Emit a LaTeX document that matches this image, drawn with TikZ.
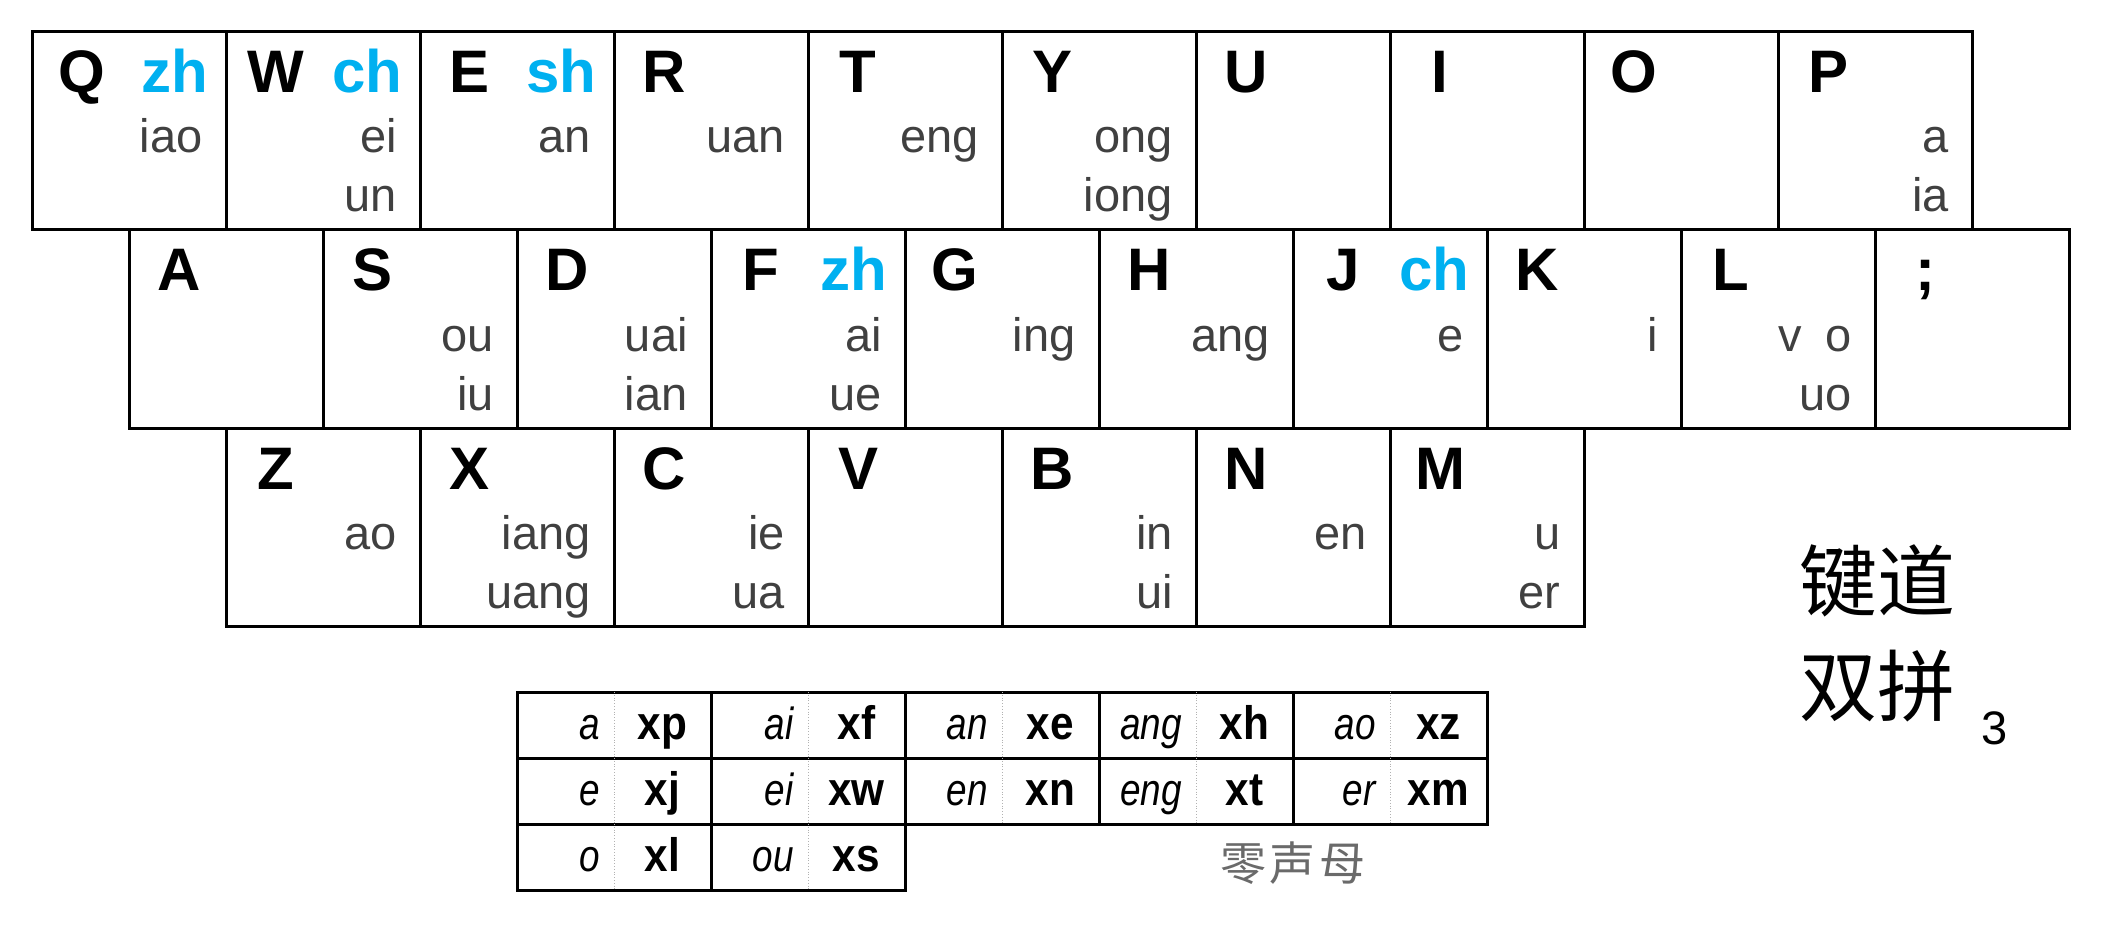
\documentclass[tikz,border=0pt]{standalone}
\usepackage{fontspec}
\setmainfont{Liberation Sans}
\newfontfamily\cjk{Noto Sans CJK SC}
\newfontfamily\tblit[FakeStretch=0.82]{Liberation Sans}
\newfontfamily\tblbf[FakeStretch=0.9]{Liberation Sans}
\definecolor{smblue}{HTML}{00B0F0}
\definecolor{fingray}{HTML}{404040}
\definecolor{notegray}{HTML}{6A6A6A}
\tikzset{
  keybox/.style={draw=black,line width=1.5pt,minimum width=97pt,
    minimum height=99pt,inner sep=0pt,outer sep=0pt,anchor=north west},
  keyltr/.style={font=\fontsize{30}{36}\selectfont\bfseries,anchor=base,
    inner sep=0pt},
  keysm/.style={font=\fontsize{30}{36}\selectfont\bfseries,text=smblue,
    anchor=base east,inner sep=0pt},
  keyfin/.style={font=\fontsize{23.5}{28}\selectfont,text=fingray,
    anchor=base east,inner sep=0pt},
  zcell/.style={draw=black,line width=1.5pt,minimum width=97pt,
    minimum height=33pt,inner sep=0pt,outer sep=0pt,anchor=north west},
  zsep/.style={densely dotted,black!30,line width=0.4pt},
  zfin/.style={font=\tblit\fontsize{22.5}{27}\selectfont\itshape,
    anchor=base east,inner sep=0pt},
  zcode/.style={font=\tblbf\fontsize{23.5}{28}\selectfont\bfseries,
    anchor=base,inner sep=0pt},
  titletxt/.style={font=\cjk\fontsize{39}{46}\selectfont,inner sep=0pt},
  vernum/.style={font=\fontsize{23.5}{28}\selectfont,inner sep=0pt},
  zeronote/.style={font=\cjk\fontsize{23}{28}\selectfont,text=notegray,
    inner sep=0pt},
}

\begin{document}
\begin{tikzpicture}[x=0.5pt,y=-0.5pt]
  \useasboundingbox (0,0) rectangle (2104,925);
  % key caps, three rows
  \foreach \ltr [count=\i from 0] in {Q,W,E,R,T,Y,U,I,O,P} {
    \node[keybox] (top\i) at ({32+194*\i},32) {};
    \node[keyltr] (top\i-l) at ([shift={(50,61)}]top\i.north west) {\ltr};
  }
  \foreach \ltr [count=\i from 0] in {A,S,D,F,G,H,J,K,L,{;}} {
    \node[keybox] (mid\i) at ({129+194*\i},230) {};
    \node[keyltr] (mid\i-l) at ([shift={(50,61)}]mid\i.north west) {\ltr};
  }
  \foreach \ltr [count=\i from 0] in {Z,X,C,V,B,N,M} {
    \node[keybox] (bot\i) at ({226+194*\i},428) {};
    \node[keyltr] (bot\i-l) at ([shift={(50,61)}]bot\i.north west) {\ltr};
  }
  % shengmu
  \foreach \k/\sm in {top0/zh,top1/ch,top2/sh,mid3/zh,mid6/ch}
    \node[keysm] (\k-s) at ([shift={(-17,61)}]\k.north east) {\sm};
  % yunmu, first and second line
  \foreach \k/\fn in {top0/iao,top1/ei,top2/an,top3/uan,top4/eng,top5/ong,
      top9/a,mid1/ou,mid2/uai,mid3/ai,mid4/ing,mid5/ang,mid6/e,mid7/i,
      mid8/v\hspace{0.5em}o,bot0/ao,bot1/iang,bot2/ie,bot4/in,bot5/en,bot6/u}
    \node[keyfin] (\k-a) at ([shift={(-23,121)}]\k.north east) {\fn};
  \foreach \k/\fn in {top1/un,top5/iong,top9/ia,mid1/iu,mid2/ian,mid3/ue,
      mid8/uo,bot1/uang,bot2/ua,bot4/ui,bot6/er}
    \node[keyfin] (\k-b) at ([shift={(-23,180)}]\k.north east) {\fn};

  % zero initial table
  \foreach \r/\c/\fn/\cd in {0/0/a/xp,0/1/ai/xf,0/2/an/xe,0/3/ang/xh,0/4/ao/xz,
      1/0/e/xj,1/1/ei/xw,1/2/en/xn,1/3/eng/xt,1/4/er/xm,2/0/o/xl,2/1/ou/xs} {
    \node[zcell] (z\r\c) at ({517+194*\c},{692+66*\r}) {};
    \draw[zsep] (z\r\c.north) -- (z\r\c.south);
    \node[zfin] (z\r\c-f) at ([shift={(-14,47)}]z\r\c.north) {\fn};
    \node[zcode] (z\r\c-c) at ([shift={(48.5,47)}]z\r\c.north) {\cd};
  }
  \node[zeronote] (zero) at (1293,863) {零\hspace{2pt}声\hspace{2pt}母};

  % title
  \node[titletxt] (title1) at (1877,581) {键道};
  \node[titletxt] (title2) at (1877,686) {双拼};
  \node[vernum] (ver) at (1995,728) {3};
\end{tikzpicture}
\end{document}
